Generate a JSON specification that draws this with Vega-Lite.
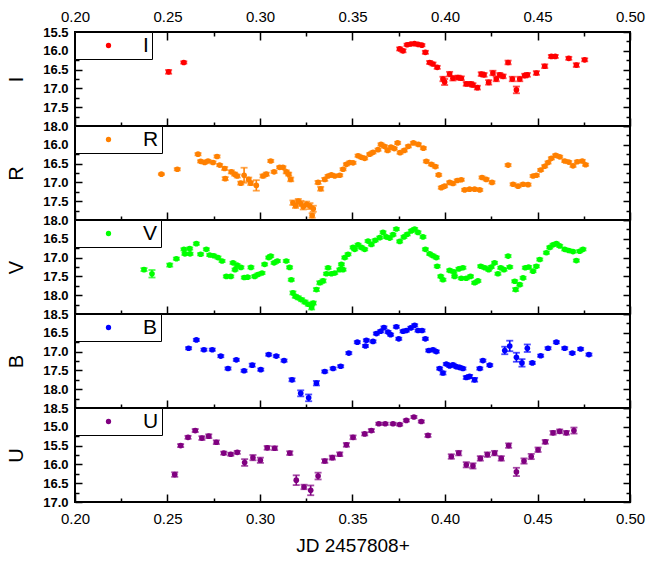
{
"$schema":"https://vega.github.io/schema/vega-lite/v6.json",
"padding":{"left":5,"top":8,"right":5,"bottom":5},
"data":{"values":[
{"b":"I","x":0.2506,"y":16.56,"e":0.05},{"b":"I","x":0.2588,"y":16.31,"e":0.03},{"b":"I","x":0.3755,"y":15.95,"e":0.04},{"b":"I","x":0.3773,"y":16.0,"e":0.04},{"b":"I","x":0.3795,"y":15.84,"e":0.03},{"b":"I","x":0.3815,"y":15.82,"e":0.03},{"b":"I","x":0.3835,"y":15.81,"e":0.03},{"b":"I","x":0.3855,"y":15.83,"e":0.03},{"b":"I","x":0.3875,"y":15.85,"e":0.03},{"b":"I","x":0.3894,"y":16.04,"e":0.04},{"b":"I","x":0.3917,"y":16.31,"e":0.04},{"b":"I","x":0.3935,"y":16.35,"e":0.04},{"b":"I","x":0.3958,"y":16.44,"e":0.04},{"b":"I","x":0.3989,"y":16.75,"e":0.06},{"b":"I","x":0.3998,"y":16.83,"e":0.08},{"b":"I","x":0.4025,"y":16.62,"e":0.06},{"b":"I","x":0.4043,"y":16.73,"e":0.06},{"b":"I","x":0.407,"y":16.71,"e":0.05},{"b":"I","x":0.4088,"y":16.73,"e":0.05},{"b":"I","x":0.4115,"y":16.88,"e":0.05},{"b":"I","x":0.4139,"y":16.88,"e":0.05},{"b":"I","x":0.4151,"y":16.91,"e":0.05},{"b":"I","x":0.4175,"y":16.98,"e":0.05},{"b":"I","x":0.4196,"y":16.62,"e":0.05},{"b":"I","x":0.4211,"y":16.64,"e":0.05},{"b":"I","x":0.4236,"y":16.84,"e":0.06},{"b":"I","x":0.4259,"y":16.59,"e":0.06},{"b":"I","x":0.4277,"y":16.75,"e":0.06},{"b":"I","x":0.4296,"y":16.64,"e":0.05},{"b":"I","x":0.4314,"y":16.68,"e":0.05},{"b":"I","x":0.4341,"y":16.31,"e":0.05},{"b":"I","x":0.4364,"y":16.75,"e":0.06},{"b":"I","x":0.4386,"y":17.04,"e":0.09},{"b":"I","x":0.4404,"y":16.75,"e":0.06},{"b":"I","x":0.4431,"y":16.66,"e":0.05},{"b":"I","x":0.4445,"y":16.64,"e":0.05},{"b":"I","x":0.4494,"y":16.59,"e":0.05},{"b":"I","x":0.4539,"y":16.41,"e":0.05},{"b":"I","x":0.4575,"y":16.15,"e":0.04},{"b":"I","x":0.4596,"y":16.15,"e":0.04},{"b":"I","x":0.4669,"y":16.2,"e":0.04},{"b":"I","x":0.471,"y":16.38,"e":0.05},{"b":"I","x":0.4755,"y":16.24,"e":0.04},
{"b":"R","x":0.2467,"y":16.78,"e":0.02},{"b":"R","x":0.2553,"y":16.65,"e":0.03},{"b":"R","x":0.2665,"y":16.25,"e":0.03},{"b":"R","x":0.2679,"y":16.44,"e":0.03},{"b":"R","x":0.2701,"y":16.47,"e":0.03},{"b":"R","x":0.2719,"y":16.43,"e":0.03},{"b":"R","x":0.2746,"y":16.47,"e":0.03},{"b":"R","x":0.2768,"y":16.31,"e":0.03},{"b":"R","x":0.2782,"y":16.54,"e":0.03},{"b":"R","x":0.2809,"y":16.63,"e":0.04},{"b":"R","x":0.2812,"y":16.9,"e":0.04},{"b":"R","x":0.2845,"y":16.72,"e":0.04},{"b":"R","x":0.2863,"y":16.78,"e":0.04},{"b":"R","x":0.2877,"y":16.83,"e":0.04},{"b":"R","x":0.2896,"y":17.02,"e":0.04},{"b":"R","x":0.2914,"y":16.81,"e":0.2},{"b":"R","x":0.2939,"y":16.92,"e":0.05},{"b":"R","x":0.295,"y":17.02,"e":0.05},{"b":"R","x":0.298,"y":17.08,"e":0.14},{"b":"R","x":0.3016,"y":16.83,"e":0.04},{"b":"R","x":0.3034,"y":16.78,"e":0.04},{"b":"R","x":0.3058,"y":16.43,"e":0.03},{"b":"R","x":0.3076,"y":16.72,"e":0.03},{"b":"R","x":0.3106,"y":16.6,"e":0.03},{"b":"R","x":0.3124,"y":16.6,"e":0.03},{"b":"R","x":0.3142,"y":16.72,"e":0.04},{"b":"R","x":0.3155,"y":16.78,"e":0.04},{"b":"R","x":0.3166,"y":16.92,"e":0.05},{"b":"R","x":0.3178,"y":17.54,"e":0.06},{"b":"R","x":0.3192,"y":17.62,"e":0.06},{"b":"R","x":0.3207,"y":17.5,"e":0.06},{"b":"R","x":0.3221,"y":17.56,"e":0.07},{"b":"R","x":0.3234,"y":17.65,"e":0.07},{"b":"R","x":0.3252,"y":17.58,"e":0.07},{"b":"R","x":0.327,"y":17.63,"e":0.08},{"b":"R","x":0.3288,"y":17.7,"e":0.08},{"b":"R","x":0.3282,"y":17.88,"e":0.06},{"b":"R","x":0.3314,"y":17.0,"e":0.04},{"b":"R","x":0.3328,"y":17.17,"e":0.05},{"b":"R","x":0.335,"y":16.92,"e":0.04},{"b":"R","x":0.3368,"y":16.83,"e":0.03},{"b":"R","x":0.3386,"y":16.8,"e":0.03},{"b":"R","x":0.3404,"y":16.83,"e":0.03},{"b":"R","x":0.3431,"y":16.81,"e":0.03},{"b":"R","x":0.3449,"y":16.65,"e":0.03},{"b":"R","x":0.3467,"y":16.52,"e":0.03},{"b":"R","x":0.3485,"y":16.47,"e":0.03},{"b":"R","x":0.3503,"y":16.48,"e":0.03},{"b":"R","x":0.353,"y":16.29,"e":0.03},{"b":"R","x":0.3548,"y":16.33,"e":0.03},{"b":"R","x":0.3566,"y":16.36,"e":0.03},{"b":"R","x":0.3593,"y":16.25,"e":0.03},{"b":"R","x":0.3611,"y":16.2,"e":0.03},{"b":"R","x":0.3638,"y":16.13,"e":0.03},{"b":"R","x":0.3654,"y":15.99,"e":0.03},{"b":"R","x":0.3672,"y":16.04,"e":0.03},{"b":"R","x":0.369,"y":16.15,"e":0.03},{"b":"R","x":0.3708,"y":16.06,"e":0.03},{"b":"R","x":0.3726,"y":16.1,"e":0.03},{"b":"R","x":0.3744,"y":15.95,"e":0.03},{"b":"R","x":0.3757,"y":16.21,"e":0.03},{"b":"R","x":0.378,"y":16.15,"e":0.03},{"b":"R","x":0.3802,"y":16.04,"e":0.03},{"b":"R","x":0.3829,"y":15.95,"e":0.03},{"b":"R","x":0.3856,"y":15.99,"e":0.03},{"b":"R","x":0.3883,"y":16.09,"e":0.03},{"b":"R","x":0.3899,"y":16.44,"e":0.03},{"b":"R","x":0.3926,"y":16.52,"e":0.03},{"b":"R","x":0.3948,"y":16.58,"e":0.03},{"b":"R","x":0.3966,"y":16.8,"e":0.03},{"b":"R","x":0.398,"y":17.14,"e":0.03},{"b":"R","x":0.3998,"y":17.1,"e":0.03},{"b":"R","x":0.4025,"y":17.0,"e":0.03},{"b":"R","x":0.4043,"y":17.03,"e":0.03},{"b":"R","x":0.4066,"y":16.95,"e":0.03},{"b":"R","x":0.4088,"y":16.93,"e":0.03},{"b":"R","x":0.4106,"y":17.2,"e":0.03},{"b":"R","x":0.4133,"y":17.18,"e":0.03},{"b":"R","x":0.416,"y":17.18,"e":0.03},{"b":"R","x":0.4188,"y":17.2,"e":0.03},{"b":"R","x":0.42,"y":16.87,"e":0.03},{"b":"R","x":0.4223,"y":16.92,"e":0.03},{"b":"R","x":0.4254,"y":17.0,"e":0.03},{"b":"R","x":0.4341,"y":16.54,"e":0.03},{"b":"R","x":0.4368,"y":17.05,"e":0.03},{"b":"R","x":0.4395,"y":17.1,"e":0.03},{"b":"R","x":0.4422,"y":17.05,"e":0.03},{"b":"R","x":0.4449,"y":17.06,"e":0.03},{"b":"R","x":0.4476,"y":16.83,"e":0.03},{"b":"R","x":0.4494,"y":16.81,"e":0.03},{"b":"R","x":0.4517,"y":16.67,"e":0.03},{"b":"R","x":0.4539,"y":16.57,"e":0.03},{"b":"R","x":0.4557,"y":16.47,"e":0.03},{"b":"R","x":0.4575,"y":16.36,"e":0.03},{"b":"R","x":0.4598,"y":16.28,"e":0.03},{"b":"R","x":0.462,"y":16.32,"e":0.03},{"b":"R","x":0.4647,"y":16.43,"e":0.03},{"b":"R","x":0.4669,"y":16.46,"e":0.03},{"b":"R","x":0.4692,"y":16.56,"e":0.03},{"b":"R","x":0.4715,"y":16.45,"e":0.03},{"b":"R","x":0.4742,"y":16.43,"e":0.03},{"b":"R","x":0.476,"y":16.53,"e":0.03},
{"b":"V","x":0.2373,"y":17.32,"e":0.04},{"b":"V","x":0.2416,"y":17.43,"e":0.1},{"b":"V","x":0.2512,"y":17.2,"e":0.04},{"b":"V","x":0.2548,"y":17.03,"e":0.03},{"b":"V","x":0.2589,"y":16.78,"e":0.03},{"b":"V","x":0.262,"y":16.76,"e":0.03},{"b":"V","x":0.2594,"y":16.9,"e":0.03},{"b":"V","x":0.2622,"y":16.9,"e":0.03},{"b":"V","x":0.2656,"y":16.63,"e":0.03},{"b":"V","x":0.2679,"y":16.91,"e":0.03},{"b":"V","x":0.271,"y":16.78,"e":0.03},{"b":"V","x":0.2728,"y":16.93,"e":0.03},{"b":"V","x":0.275,"y":16.95,"e":0.03},{"b":"V","x":0.2773,"y":17.0,"e":0.03},{"b":"V","x":0.2795,"y":17.09,"e":0.03},{"b":"V","x":0.2818,"y":17.5,"e":0.03},{"b":"V","x":0.2842,"y":17.5,"e":0.03},{"b":"V","x":0.2854,"y":17.14,"e":0.03},{"b":"V","x":0.2865,"y":17.32,"e":0.03},{"b":"V","x":0.2876,"y":17.2,"e":0.03},{"b":"V","x":0.2897,"y":17.26,"e":0.03},{"b":"V","x":0.2915,"y":17.53,"e":0.03},{"b":"V","x":0.2933,"y":17.52,"e":0.03},{"b":"V","x":0.2951,"y":17.26,"e":0.03},{"b":"V","x":0.2971,"y":17.5,"e":0.03},{"b":"V","x":0.2989,"y":17.45,"e":0.03},{"b":"V","x":0.3011,"y":17.41,"e":0.03},{"b":"V","x":0.3025,"y":17.18,"e":0.03},{"b":"V","x":0.3047,"y":17.0,"e":0.03},{"b":"V","x":0.3058,"y":16.96,"e":0.03},{"b":"V","x":0.3076,"y":17.14,"e":0.03},{"b":"V","x":0.3094,"y":17.09,"e":0.03},{"b":"V","x":0.3142,"y":17.09,"e":0.03},{"b":"V","x":0.316,"y":17.26,"e":0.03},{"b":"V","x":0.3169,"y":17.59,"e":0.03},{"b":"V","x":0.3178,"y":17.94,"e":0.04},{"b":"V","x":0.3191,"y":18.03,"e":0.04},{"b":"V","x":0.3207,"y":18.07,"e":0.04},{"b":"V","x":0.3225,"y":18.12,"e":0.04},{"b":"V","x":0.3243,"y":18.18,"e":0.04},{"b":"V","x":0.3261,"y":18.24,"e":0.04},{"b":"V","x":0.3279,"y":18.33,"e":0.05},{"b":"V","x":0.3288,"y":18.21,"e":0.04},{"b":"V","x":0.3305,"y":17.85,"e":0.04},{"b":"V","x":0.3323,"y":17.67,"e":0.04},{"b":"V","x":0.3341,"y":17.62,"e":0.04},{"b":"V","x":0.3359,"y":17.43,"e":0.03},{"b":"V","x":0.3368,"y":17.27,"e":0.03},{"b":"V","x":0.3386,"y":17.43,"e":0.03},{"b":"V","x":0.3404,"y":17.41,"e":0.03},{"b":"V","x":0.3431,"y":17.32,"e":0.03},{"b":"V","x":0.344,"y":17.18,"e":0.03},{"b":"V","x":0.3449,"y":17.32,"e":0.03},{"b":"V","x":0.3458,"y":17.0,"e":0.03},{"b":"V","x":0.3476,"y":16.91,"e":0.03},{"b":"V","x":0.3503,"y":16.73,"e":0.03},{"b":"V","x":0.3512,"y":16.78,"e":0.03},{"b":"V","x":0.353,"y":16.66,"e":0.03},{"b":"V","x":0.3548,"y":16.73,"e":0.03},{"b":"V","x":0.3566,"y":16.78,"e":0.03},{"b":"V","x":0.3584,"y":16.56,"e":0.03},{"b":"V","x":0.3602,"y":16.65,"e":0.03},{"b":"V","x":0.3623,"y":16.54,"e":0.03},{"b":"V","x":0.3647,"y":16.47,"e":0.03},{"b":"V","x":0.3665,"y":16.33,"e":0.03},{"b":"V","x":0.3683,"y":16.45,"e":0.03},{"b":"V","x":0.3701,"y":16.48,"e":0.03},{"b":"V","x":0.3719,"y":16.39,"e":0.03},{"b":"V","x":0.3737,"y":16.24,"e":0.03},{"b":"V","x":0.3755,"y":16.57,"e":0.03},{"b":"V","x":0.3778,"y":16.45,"e":0.03},{"b":"V","x":0.3796,"y":16.38,"e":0.03},{"b":"V","x":0.3818,"y":16.29,"e":0.03},{"b":"V","x":0.3836,"y":16.24,"e":0.03},{"b":"V","x":0.3854,"y":16.33,"e":0.03},{"b":"V","x":0.3881,"y":16.45,"e":0.03},{"b":"V","x":0.3894,"y":16.78,"e":0.03},{"b":"V","x":0.3917,"y":16.9,"e":0.03},{"b":"V","x":0.3935,"y":16.95,"e":0.03},{"b":"V","x":0.3953,"y":17.0,"e":0.03},{"b":"V","x":0.3958,"y":17.23,"e":0.03},{"b":"V","x":0.3977,"y":17.5,"e":0.03},{"b":"V","x":0.3989,"y":17.59,"e":0.03},{"b":"V","x":0.4025,"y":17.34,"e":0.03},{"b":"V","x":0.4048,"y":17.38,"e":0.03},{"b":"V","x":0.4075,"y":17.3,"e":0.03},{"b":"V","x":0.4097,"y":17.27,"e":0.03},{"b":"V","x":0.4052,"y":17.5,"e":0.03},{"b":"V","x":0.4088,"y":17.55,"e":0.03},{"b":"V","x":0.4115,"y":17.55,"e":0.03},{"b":"V","x":0.4138,"y":17.5,"e":0.03},{"b":"V","x":0.416,"y":17.67,"e":0.03},{"b":"V","x":0.4178,"y":17.62,"e":0.03},{"b":"V","x":0.4193,"y":17.23,"e":0.03},{"b":"V","x":0.4215,"y":17.27,"e":0.03},{"b":"V","x":0.4236,"y":17.32,"e":0.03},{"b":"V","x":0.425,"y":17.25,"e":0.03},{"b":"V","x":0.4268,"y":17.14,"e":0.03},{"b":"V","x":0.4286,"y":17.43,"e":0.03},{"b":"V","x":0.4301,"y":17.27,"e":0.03},{"b":"V","x":0.4319,"y":17.32,"e":0.03},{"b":"V","x":0.4341,"y":16.96,"e":0.03},{"b":"V","x":0.435,"y":17.25,"e":0.03},{"b":"V","x":0.4377,"y":17.63,"e":0.03},{"b":"V","x":0.4382,"y":17.85,"e":0.04},{"b":"V","x":0.4404,"y":17.72,"e":0.03},{"b":"V","x":0.4422,"y":17.54,"e":0.03},{"b":"V","x":0.4434,"y":17.27,"e":0.03},{"b":"V","x":0.4452,"y":17.25,"e":0.03},{"b":"V","x":0.4476,"y":17.36,"e":0.03},{"b":"V","x":0.4494,"y":17.23,"e":0.03},{"b":"V","x":0.4512,"y":17.05,"e":0.03},{"b":"V","x":0.4548,"y":16.87,"e":0.03},{"b":"V","x":0.4566,"y":16.73,"e":0.03},{"b":"V","x":0.4584,"y":16.66,"e":0.03},{"b":"V","x":0.4602,"y":16.63,"e":0.03},{"b":"V","x":0.462,"y":16.69,"e":0.03},{"b":"V","x":0.4647,"y":16.78,"e":0.03},{"b":"V","x":0.4669,"y":16.81,"e":0.03},{"b":"V","x":0.4692,"y":16.84,"e":0.03},{"b":"V","x":0.471,"y":17.08,"e":0.03},{"b":"V","x":0.4728,"y":16.83,"e":0.03},{"b":"V","x":0.4746,"y":16.78,"e":0.03},
{"b":"B","x":0.2614,"y":16.91,"e":0.03},{"b":"B","x":0.2656,"y":16.69,"e":0.03},{"b":"B","x":0.2697,"y":16.95,"e":0.03},{"b":"B","x":0.2742,"y":16.95,"e":0.03},{"b":"B","x":0.2788,"y":17.12,"e":0.03},{"b":"B","x":0.2827,"y":17.45,"e":0.03},{"b":"B","x":0.2872,"y":17.22,"e":0.03},{"b":"B","x":0.2914,"y":17.51,"e":0.03},{"b":"B","x":0.2958,"y":17.36,"e":0.04},{"b":"B","x":0.3004,"y":17.48,"e":0.03},{"b":"B","x":0.3047,"y":17.08,"e":0.03},{"b":"B","x":0.3088,"y":17.12,"e":0.03},{"b":"B","x":0.313,"y":17.24,"e":0.03},{"b":"B","x":0.3173,"y":17.75,"e":0.04},{"b":"B","x":0.322,"y":18.11,"e":0.08},{"b":"B","x":0.3263,"y":18.23,"e":0.09},{"b":"B","x":0.3305,"y":17.84,"e":0.06},{"b":"B","x":0.335,"y":17.53,"e":0.03},{"b":"B","x":0.3395,"y":17.45,"e":0.03},{"b":"B","x":0.3436,"y":17.39,"e":0.03},{"b":"B","x":0.348,"y":17.04,"e":0.03},{"b":"B","x":0.3526,"y":16.75,"e":0.03},{"b":"B","x":0.357,"y":16.85,"e":0.03},{"b":"B","x":0.3575,"y":16.7,"e":0.03},{"b":"B","x":0.3611,"y":16.73,"e":0.03},{"b":"B","x":0.3629,"y":16.52,"e":0.03},{"b":"B","x":0.3652,"y":16.46,"e":0.03},{"b":"B","x":0.367,"y":16.36,"e":0.03},{"b":"B","x":0.3692,"y":16.48,"e":0.03},{"b":"B","x":0.3706,"y":16.55,"e":0.03},{"b":"B","x":0.3737,"y":16.34,"e":0.03},{"b":"B","x":0.375,"y":16.66,"e":0.03},{"b":"B","x":0.3773,"y":16.46,"e":0.03},{"b":"B","x":0.3791,"y":16.44,"e":0.03},{"b":"B","x":0.3815,"y":16.37,"e":0.03},{"b":"B","x":0.3836,"y":16.3,"e":0.03},{"b":"B","x":0.3854,"y":16.44,"e":0.03},{"b":"B","x":0.3876,"y":16.44,"e":0.03},{"b":"B","x":0.3894,"y":16.66,"e":0.03},{"b":"B","x":0.3912,"y":16.97,"e":0.03},{"b":"B","x":0.3935,"y":16.95,"e":0.03},{"b":"B","x":0.3953,"y":17.0,"e":0.03},{"b":"B","x":0.3971,"y":17.45,"e":0.03},{"b":"B","x":0.3989,"y":17.57,"e":0.04},{"b":"B","x":0.4007,"y":17.33,"e":0.03},{"b":"B","x":0.4025,"y":17.38,"e":0.03},{"b":"B","x":0.4043,"y":17.35,"e":0.03},{"b":"B","x":0.4061,"y":17.4,"e":0.03},{"b":"B","x":0.4079,"y":17.42,"e":0.03},{"b":"B","x":0.4097,"y":17.45,"e":0.03},{"b":"B","x":0.4115,"y":17.69,"e":0.04},{"b":"B","x":0.4133,"y":17.66,"e":0.04},{"b":"B","x":0.416,"y":17.75,"e":0.05},{"b":"B","x":0.4188,"y":17.45,"e":0.03},{"b":"B","x":0.4205,"y":17.24,"e":0.03},{"b":"B","x":0.4242,"y":17.36,"e":0.03},{"b":"B","x":0.4323,"y":16.97,"e":0.1},{"b":"B","x":0.435,"y":16.85,"e":0.14},{"b":"B","x":0.4386,"y":17.15,"e":0.12},{"b":"B","x":0.4416,"y":17.3,"e":0.1},{"b":"B","x":0.4445,"y":16.91,"e":0.1},{"b":"B","x":0.4472,"y":17.3,"e":0.03},{"b":"B","x":0.4517,"y":17.11,"e":0.03},{"b":"B","x":0.4557,"y":16.91,"e":0.03},{"b":"B","x":0.4602,"y":16.75,"e":0.03},{"b":"B","x":0.4647,"y":16.91,"e":0.03},{"b":"B","x":0.4688,"y":17.04,"e":0.03},{"b":"B","x":0.4733,"y":16.93,"e":0.03},{"b":"B","x":0.4778,"y":17.08,"e":0.03},
{"b":"U","x":0.2539,"y":16.27,"e":0.06},{"b":"U","x":0.2571,"y":15.5,"e":0.04},{"b":"U","x":0.2611,"y":15.28,"e":0.04},{"b":"U","x":0.265,"y":15.1,"e":0.04},{"b":"U","x":0.2686,"y":15.3,"e":0.05},{"b":"U","x":0.2723,"y":15.25,"e":0.05},{"b":"U","x":0.2764,"y":15.41,"e":0.05},{"b":"U","x":0.2804,"y":15.7,"e":0.04},{"b":"U","x":0.2842,"y":15.73,"e":0.04},{"b":"U","x":0.2877,"y":15.68,"e":0.04},{"b":"U","x":0.2917,"y":15.95,"e":0.09},{"b":"U","x":0.2962,"y":15.82,"e":0.07},{"b":"U","x":0.3002,"y":15.89,"e":0.07},{"b":"U","x":0.3039,"y":15.56,"e":0.05},{"b":"U","x":0.3079,"y":15.57,"e":0.05},{"b":"U","x":0.3161,"y":15.7,"e":0.05},{"b":"U","x":0.3196,"y":16.42,"e":0.13},{"b":"U","x":0.3238,"y":16.6,"e":0.06},{"b":"U","x":0.3274,"y":16.69,"e":0.13},{"b":"U","x":0.3314,"y":16.31,"e":0.09},{"b":"U","x":0.335,"y":15.91,"e":0.05},{"b":"U","x":0.3391,"y":15.82,"e":0.05},{"b":"U","x":0.3431,"y":15.73,"e":0.05},{"b":"U","x":0.3467,"y":15.48,"e":0.05},{"b":"U","x":0.3503,"y":15.28,"e":0.05},{"b":"U","x":0.3566,"y":15.19,"e":0.04},{"b":"U","x":0.3602,"y":15.1,"e":0.04},{"b":"U","x":0.3642,"y":14.92,"e":0.03},{"b":"U","x":0.3677,"y":14.92,"e":0.03},{"b":"U","x":0.3719,"y":14.92,"e":0.03},{"b":"U","x":0.3755,"y":14.94,"e":0.03},{"b":"U","x":0.3791,"y":14.83,"e":0.03},{"b":"U","x":0.3832,"y":14.74,"e":0.03},{"b":"U","x":0.3872,"y":14.86,"e":0.03},{"b":"U","x":0.3908,"y":15.23,"e":0.04},{"b":"U","x":0.4034,"y":15.79,"e":0.06},{"b":"U","x":0.4074,"y":15.7,"e":0.06},{"b":"U","x":0.4115,"y":16.01,"e":0.07},{"b":"U","x":0.4151,"y":16.04,"e":0.07},{"b":"U","x":0.4191,"y":15.84,"e":0.06},{"b":"U","x":0.4229,"y":15.74,"e":0.06},{"b":"U","x":0.4268,"y":15.7,"e":0.06},{"b":"U","x":0.4304,"y":15.84,"e":0.06},{"b":"U","x":0.4344,"y":15.5,"e":0.06},{"b":"U","x":0.4386,"y":16.2,"e":0.11},{"b":"U","x":0.4427,"y":15.91,"e":0.07},{"b":"U","x":0.4466,"y":15.79,"e":0.07},{"b":"U","x":0.4503,"y":15.61,"e":0.06},{"b":"U","x":0.4542,"y":15.4,"e":0.05},{"b":"U","x":0.4584,"y":15.16,"e":0.05},{"b":"U","x":0.462,"y":15.12,"e":0.05},{"b":"U","x":0.4656,"y":15.16,"e":0.05},{"b":"U","x":0.4697,"y":15.1,"e":0.08}
]},
"spacing":0,
"bounds":"flush",
"resolve":{"scale":{"x":"independent","y":"independent","color":"independent"},"legend":{"color":"independent"}},
"vconcat":[
{"width":555,"height":94,"transform":[{"filter":"datum.b === 'I'"}],
 "layer":[
  {"mark":{"type":"errorbar","color":"#FF0000","thickness":1.6,"ticks":{"size":7,"thickness":1.8}},
   "encoding":{"x":{"field":"x","type":"quantitative","scale":{"domain":[0.2,0.5],"nice":false,"zero":false},"axis":{"orient":"bottom","values":[0.2,0.25,0.3,0.35,0.4,0.45,0.5],"labels":false,"tickSize":-8,"title":null}},
    "y":{"field":"y","type":"quantitative","scale":{"domain":[15.5,18],"reverse":true,"nice":false,"zero":false},"axis":{"orient":"left","values":[15.5,16,16.5,17,17.5,18],"ticks":false,"labelPadding":7,"title":"I","titleFontSize":20,"titlePadding":16,"format":".1f"}},
    "yError":{"field":"e"}}},
  {"mark":{"type":"point","filled":true,"size":32,"opacity":1},
   "encoding":{"x":{"field":"x","type":"quantitative","scale":{"domain":[0.2,0.5],"nice":false,"zero":false},"axis":{"orient":"bottom","values":[0.225,0.275,0.325,0.375,0.425,0.475],"labels":false,"tickSize":-4,"title":null}},
    "y":{"field":"y","type":"quantitative","scale":{"domain":[15.5,18],"reverse":true,"nice":false,"zero":false},"axis":{"orient":"left","values":[15.5,16,16.5,17,17.5,18],"labels":false,"tickSize":-7,"title":null}},
    "color":{"field":"b","type":"nominal","scale":{"domain":["I"],"range":["#FF0000"]},"legend":{"title":null}}}},
  {"mark":{"type":"point","opacity":0},
   "encoding":{"x":{"field":"x","type":"quantitative","scale":{"domain":[0.2,0.5],"nice":false,"zero":false},"axis":{"orient":"top","values":[0.2,0.25,0.3,0.35,0.4,0.45,0.5],"labels":false,"tickSize":-8,"title":null}},
    "y":{"field":"y","type":"quantitative","scale":{"domain":[15.5,18],"reverse":true,"nice":false,"zero":false},"axis":{"orient":"left","values":[15.75,16.25,16.75,17.25,17.75],"labels":false,"tickSize":-4,"title":null}}}},
  {"mark":{"type":"point","opacity":0},
   "encoding":{"x":{"field":"x","type":"quantitative","scale":{"domain":[0.2,0.5],"nice":false,"zero":false},"axis":{"orient":"top","values":[0.225,0.275,0.325,0.375,0.425,0.475],"labels":false,"tickSize":-4,"title":null}},
    "y":{"field":"y","type":"quantitative","scale":{"domain":[15.5,18],"reverse":true,"nice":false,"zero":false},"axis":{"orient":"right","values":[15.5,16,16.5,17,17.5,18],"labels":false,"tickSize":-7,"title":null}}}},
  {"mark":{"type":"point","opacity":0},
   "encoding":{"x":{"field":"x","type":"quantitative","scale":{"domain":[0.2,0.5],"nice":false,"zero":false},"axis":{"orient":"top","values":[0.2,0.25,0.3,0.35,0.4,0.45,0.5],"ticks":false,"labelPadding":8,"labelFontSize":15,"labelFontWeight":"normal","format":".2f","title":null}},
    "y":{"field":"y","type":"quantitative","scale":{"domain":[15.5,18],"reverse":true,"nice":false,"zero":false},"axis":{"orient":"right","values":[15.75,16.25,16.75,17.25,17.75],"labels":false,"tickSize":-4,"title":null}}}}
 ],
 "resolve":{"axis":{"x":"independent","y":"independent"}}},
{"width":555,"height":94,"transform":[{"filter":"datum.b === 'R'"}],
 "layer":[
  {"mark":{"type":"errorbar","color":"#FF8000","thickness":1.6,"ticks":{"size":7,"thickness":1.8}},
   "encoding":{"x":{"field":"x","type":"quantitative","scale":{"domain":[0.2,0.5],"nice":false,"zero":false},"axis":{"orient":"bottom","values":[0.2,0.25,0.3,0.35,0.4,0.45,0.5],"labels":false,"tickSize":-8,"title":null}},
    "y":{"field":"y","type":"quantitative","scale":{"domain":[15.5,18],"reverse":true,"nice":false,"zero":false},"axis":{"orient":"left","values":[16,16.5,17,17.5,18],"ticks":false,"labelPadding":7,"title":"R","titleFontSize":20,"titlePadding":16,"format":".1f"}},
    "yError":{"field":"e"}}},
  {"mark":{"type":"point","filled":true,"size":32,"opacity":1},
   "encoding":{"x":{"field":"x","type":"quantitative","scale":{"domain":[0.2,0.5],"nice":false,"zero":false},"axis":{"orient":"bottom","values":[0.225,0.275,0.325,0.375,0.425,0.475],"labels":false,"tickSize":-4,"title":null}},
    "y":{"field":"y","type":"quantitative","scale":{"domain":[15.5,18],"reverse":true,"nice":false,"zero":false},"axis":{"orient":"left","values":[15.5,16,16.5,17,17.5,18],"labels":false,"tickSize":-7,"title":null}},
    "color":{"field":"b","type":"nominal","scale":{"domain":["R"],"range":["#FF8000"]},"legend":{"title":null}}}},
  {"mark":{"type":"point","opacity":0},
   "encoding":{"x":{"field":"x","type":"quantitative","scale":{"domain":[0.2,0.5],"nice":false,"zero":false},"axis":null},
    "y":{"field":"y","type":"quantitative","scale":{"domain":[15.5,18],"reverse":true,"nice":false,"zero":false},"axis":{"orient":"left","values":[15.75,16.25,16.75,17.25,17.75],"labels":false,"tickSize":-4,"title":null}}}},
  {"mark":{"type":"point","opacity":0},
   "encoding":{"x":{"field":"x","type":"quantitative","scale":{"domain":[0.2,0.5],"nice":false,"zero":false},"axis":null},
    "y":{"field":"y","type":"quantitative","scale":{"domain":[15.5,18],"reverse":true,"nice":false,"zero":false},"axis":{"orient":"right","values":[15.5,16,16.5,17,17.5,18],"labels":false,"tickSize":-7,"title":null}}}},
  {"mark":{"type":"point","opacity":0},
   "encoding":{"x":{"field":"x","type":"quantitative","scale":{"domain":[0.2,0.5],"nice":false,"zero":false},"axis":null},
    "y":{"field":"y","type":"quantitative","scale":{"domain":[15.5,18],"reverse":true,"nice":false,"zero":false},"axis":{"orient":"right","values":[15.75,16.25,16.75,17.25,17.75],"labels":false,"tickSize":-4,"title":null}}}}
 ],
 "resolve":{"axis":{"x":"independent","y":"independent"}}},
{"width":555,"height":94,"transform":[{"filter":"datum.b === 'V'"}],
 "layer":[
  {"mark":{"type":"errorbar","color":"#00FF00","thickness":1.6,"ticks":{"size":7,"thickness":1.8}},
   "encoding":{"x":{"field":"x","type":"quantitative","scale":{"domain":[0.2,0.5],"nice":false,"zero":false},"axis":{"orient":"bottom","values":[0.2,0.25,0.3,0.35,0.4,0.45,0.5],"labels":false,"tickSize":-8,"title":null}},
    "y":{"field":"y","type":"quantitative","scale":{"domain":[16,18.5],"reverse":true,"nice":false,"zero":false},"axis":{"orient":"left","values":[16.5,17,17.5,18,18.5],"ticks":false,"labelPadding":7,"title":"V","titleFontSize":20,"titlePadding":16,"format":".1f"}},
    "yError":{"field":"e"}}},
  {"mark":{"type":"point","filled":true,"size":32,"opacity":1},
   "encoding":{"x":{"field":"x","type":"quantitative","scale":{"domain":[0.2,0.5],"nice":false,"zero":false},"axis":{"orient":"bottom","values":[0.225,0.275,0.325,0.375,0.425,0.475],"labels":false,"tickSize":-4,"title":null}},
    "y":{"field":"y","type":"quantitative","scale":{"domain":[16,18.5],"reverse":true,"nice":false,"zero":false},"axis":{"orient":"left","values":[16,16.5,17,17.5,18,18.5],"labels":false,"tickSize":-7,"title":null}},
    "color":{"field":"b","type":"nominal","scale":{"domain":["V"],"range":["#00FF00"]},"legend":{"title":null}}}},
  {"mark":{"type":"point","opacity":0},
   "encoding":{"x":{"field":"x","type":"quantitative","scale":{"domain":[0.2,0.5],"nice":false,"zero":false},"axis":null},
    "y":{"field":"y","type":"quantitative","scale":{"domain":[16,18.5],"reverse":true,"nice":false,"zero":false},"axis":{"orient":"left","values":[16.25,16.75,17.25,17.75,18.25],"labels":false,"tickSize":-4,"title":null}}}},
  {"mark":{"type":"point","opacity":0},
   "encoding":{"x":{"field":"x","type":"quantitative","scale":{"domain":[0.2,0.5],"nice":false,"zero":false},"axis":null},
    "y":{"field":"y","type":"quantitative","scale":{"domain":[16,18.5],"reverse":true,"nice":false,"zero":false},"axis":{"orient":"right","values":[16,16.5,17,17.5,18,18.5],"labels":false,"tickSize":-7,"title":null}}}},
  {"mark":{"type":"point","opacity":0},
   "encoding":{"x":{"field":"x","type":"quantitative","scale":{"domain":[0.2,0.5],"nice":false,"zero":false},"axis":null},
    "y":{"field":"y","type":"quantitative","scale":{"domain":[16,18.5],"reverse":true,"nice":false,"zero":false},"axis":{"orient":"right","values":[16.25,16.75,17.25,17.75,18.25],"labels":false,"tickSize":-4,"title":null}}}}
 ],
 "resolve":{"axis":{"x":"independent","y":"independent"}}},
{"width":555,"height":94,"transform":[{"filter":"datum.b === 'B'"}],
 "layer":[
  {"mark":{"type":"errorbar","color":"#0000FF","thickness":1.6,"ticks":{"size":7,"thickness":1.8}},
   "encoding":{"x":{"field":"x","type":"quantitative","scale":{"domain":[0.2,0.5],"nice":false,"zero":false},"axis":{"orient":"bottom","values":[0.2,0.25,0.3,0.35,0.4,0.45,0.5],"labels":false,"tickSize":-8,"title":null}},
    "y":{"field":"y","type":"quantitative","scale":{"domain":[16,18.5],"reverse":true,"nice":false,"zero":false},"axis":{"orient":"left","values":[16.5,17,17.5,18,18.5],"ticks":false,"labelPadding":7,"title":"B","titleFontSize":20,"titlePadding":16,"format":".1f"}},
    "yError":{"field":"e"}}},
  {"mark":{"type":"point","filled":true,"size":32,"opacity":1},
   "encoding":{"x":{"field":"x","type":"quantitative","scale":{"domain":[0.2,0.5],"nice":false,"zero":false},"axis":{"orient":"bottom","values":[0.225,0.275,0.325,0.375,0.425,0.475],"labels":false,"tickSize":-4,"title":null}},
    "y":{"field":"y","type":"quantitative","scale":{"domain":[16,18.5],"reverse":true,"nice":false,"zero":false},"axis":{"orient":"left","values":[16,16.5,17,17.5,18,18.5],"labels":false,"tickSize":-7,"title":null}},
    "color":{"field":"b","type":"nominal","scale":{"domain":["B"],"range":["#0000FF"]},"legend":{"title":null}}}},
  {"mark":{"type":"point","opacity":0},
   "encoding":{"x":{"field":"x","type":"quantitative","scale":{"domain":[0.2,0.5],"nice":false,"zero":false},"axis":null},
    "y":{"field":"y","type":"quantitative","scale":{"domain":[16,18.5],"reverse":true,"nice":false,"zero":false},"axis":{"orient":"left","values":[16.25,16.75,17.25,17.75,18.25],"labels":false,"tickSize":-4,"title":null}}}},
  {"mark":{"type":"point","opacity":0},
   "encoding":{"x":{"field":"x","type":"quantitative","scale":{"domain":[0.2,0.5],"nice":false,"zero":false},"axis":null},
    "y":{"field":"y","type":"quantitative","scale":{"domain":[16,18.5],"reverse":true,"nice":false,"zero":false},"axis":{"orient":"right","values":[16,16.5,17,17.5,18,18.5],"labels":false,"tickSize":-7,"title":null}}}},
  {"mark":{"type":"point","opacity":0},
   "encoding":{"x":{"field":"x","type":"quantitative","scale":{"domain":[0.2,0.5],"nice":false,"zero":false},"axis":null},
    "y":{"field":"y","type":"quantitative","scale":{"domain":[16,18.5],"reverse":true,"nice":false,"zero":false},"axis":{"orient":"right","values":[16.25,16.75,17.25,17.75,18.25],"labels":false,"tickSize":-4,"title":null}}}}
 ],
 "resolve":{"axis":{"x":"independent","y":"independent"}}},
{"width":555,"height":94,"transform":[{"filter":"datum.b === 'U'"}],
 "layer":[
  {"mark":{"type":"errorbar","color":"#800080","thickness":1.6,"ticks":{"size":7,"thickness":1.8}},
   "encoding":{"x":{"field":"x","type":"quantitative","scale":{"domain":[0.2,0.5],"nice":false,"zero":false},"axis":{"orient":"bottom","values":[0.2,0.25,0.3,0.35,0.4,0.45,0.5],"labels":false,"tickSize":-8,"title":null}},
    "y":{"field":"y","type":"quantitative","scale":{"domain":[14.5,17],"reverse":true,"nice":false,"zero":false},"axis":{"orient":"left","values":[15,15.5,16,16.5,17],"ticks":false,"labelPadding":7,"title":"U","titleFontSize":20,"titlePadding":16,"format":".1f"}},
    "yError":{"field":"e"}}},
  {"mark":{"type":"point","filled":true,"size":32,"opacity":1},
   "encoding":{"x":{"field":"x","type":"quantitative","scale":{"domain":[0.2,0.5],"nice":false,"zero":false},"axis":{"orient":"bottom","values":[0.225,0.275,0.325,0.375,0.425,0.475],"labels":false,"tickSize":-4,"title":null}},
    "y":{"field":"y","type":"quantitative","scale":{"domain":[14.5,17],"reverse":true,"nice":false,"zero":false},"axis":{"orient":"left","values":[14.5,15,15.5,16,16.5,17],"labels":false,"tickSize":-7,"title":null}},
    "color":{"field":"b","type":"nominal","scale":{"domain":["U"],"range":["#800080"]},"legend":{"title":null}}}},
  {"mark":{"type":"point","opacity":0},
   "encoding":{"x":{"field":"x","type":"quantitative","scale":{"domain":[0.2,0.5],"nice":false,"zero":false},"axis":null},
    "y":{"field":"y","type":"quantitative","scale":{"domain":[14.5,17],"reverse":true,"nice":false,"zero":false},"axis":{"orient":"left","values":[14.75,15.25,15.75,16.25,16.75],"labels":false,"tickSize":-4,"title":null}}}},
  {"mark":{"type":"point","opacity":0},
   "encoding":{"x":{"field":"x","type":"quantitative","scale":{"domain":[0.2,0.5],"nice":false,"zero":false},"axis":null},
    "y":{"field":"y","type":"quantitative","scale":{"domain":[14.5,17],"reverse":true,"nice":false,"zero":false},"axis":{"orient":"right","values":[14.5,15,15.5,16,16.5,17],"labels":false,"tickSize":-7,"title":null}}}},
  {"mark":{"type":"point","opacity":0},
   "encoding":{"x":{"field":"x","type":"quantitative","scale":{"domain":[0.2,0.5],"nice":false,"zero":false},"axis":{"orient":"bottom","values":[0.2,0.25,0.3,0.35,0.4,0.45,0.5],"ticks":false,"labelPadding":9,"labelFontSize":15,"labelFontWeight":"normal","format":".2f","title":"JD 2457808+","titleFontSize":19,"titlePadding":10}},
    "y":{"field":"y","type":"quantitative","scale":{"domain":[14.5,17],"reverse":true,"nice":false,"zero":false},"axis":{"orient":"right","values":[14.75,15.25,15.75,16.25,16.75],"labels":false,"tickSize":-4,"title":null}}}}
 ],
 "resolve":{"axis":{"x":"independent","y":"independent"}}}
],
"config":{
 "font":"Liberation Sans",
 "view":{"stroke":"black","strokeWidth":2},
 "axis":{"grid":false,"domain":false,"tickColor":"black","tickWidth":1.5,"labelFont":"Liberation Sans","labelFontSize":13,"labelFontWeight":"bold","labelColor":"black","titleFont":"Liberation Sans","titleColor":"black","titleFontWeight":"normal","labelFlush":false,"labelOverlap":false},
 "legend":{"orient":"top-left","offset":0,"strokeColor":"black","fillColor":"white","padding":3,"symbolOffset":20,"labelOffset":24,"labelFontSize":21,"labelFont":"Liberation Sans","labelColor":"black","symbolSize":28,"symbolType":"circle","symbolStrokeWidth":0}
}
}
